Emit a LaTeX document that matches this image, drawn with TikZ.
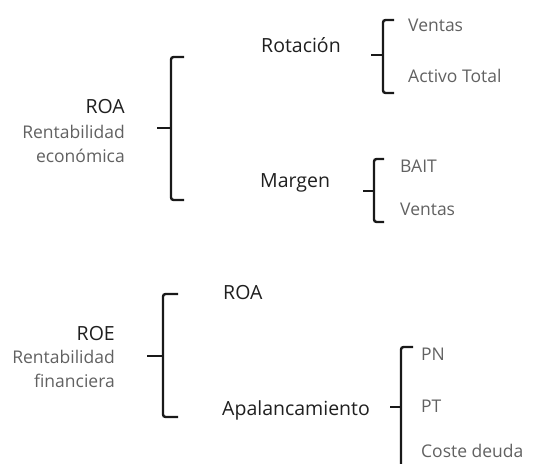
\documentclass[tikz,border=0pt]{standalone}
\usepackage{fontspec}
\setmainfont{Open Sans}
\begin{document}
\begin{tikzpicture}[x=1pt,y=-1pt,
  main/.style={inner sep=0pt,text=black!88,font=\fontsize{19.5}{22}\selectfont},
  sub/.style={inner sep=0pt,text=black!62,font=\fontsize{17.5}{20}\selectfont},
  bracket/.style={line width=2.4pt,black!90,rounded corners=2.5pt},
  tick/.style={line width=2.4pt,black!90}]
\useasboundingbox (0,0) rectangle (535,463);
% bracket: #1 spine x, #2 top, #3 bottom, #4 tip x, #5 tip y, #6 serif end x
\newcommand\drawbrk[6]{%
  \draw[bracket] (#6,#2) -- (#1,#2) -- (#1,#3) -- (#6,#3);
  \draw[tick] (#4,#5) -- (#1,#5);}

% ROA = Rotacion x Margen
\node[main,anchor=base east] (roa) at (125,113) {ROA};
\node[sub,anchor=base east] (roa1) at (125,138) {Rentabilidad};
\node[sub,anchor=base east] (roa2) at (125,162) {económica};
\drawbrk{171}{57}{200}{157}{128}{184}

\node[main,anchor=base west] (rot) at (261,52) {Rotación};
\drawbrk{383}{20}{93}{371}{55}{394}
\node[sub,anchor=base west] (ven1) at (408,31) {Ventas};
\node[sub,anchor=base west] (act) at (408,82) {Activo Total};

\node[main,anchor=base west] (mar) at (260,187) {Margen};
\drawbrk{374}{159}{222}{363}{191}{384}
\node[sub,anchor=base west] (bait) at (400,172) {BAIT};
\node[sub,anchor=base west] (ven2) at (400,215) {Ventas};

% ROE = ROA x Apalancamiento
\node[main,anchor=base east] (roe) at (115,340) {ROE};
\node[sub,anchor=base east] (roe1) at (115,363) {Rentabilidad};
\node[sub,anchor=base east] (roe2) at (115,387) {financiera};
\drawbrk{163}{294}{417}{147}{356}{178}

\node[main,anchor=base west] (roab) at (223,299) {ROA};
\node[main,anchor=base west] (apa) at (222,415) {Apalancamiento};
\draw[bracket] (413,347) -- (401,347) -- (401,470);
\draw[tick] (390,407) -- (401,407);
\node[sub,anchor=base west] (pn) at (421,360) {PN};
\node[sub,anchor=base west] (pt) at (421,412) {PT};
\node[sub,anchor=base west] (cd) at (421,457) {Coste deuda};
\end{tikzpicture}
\end{document}
